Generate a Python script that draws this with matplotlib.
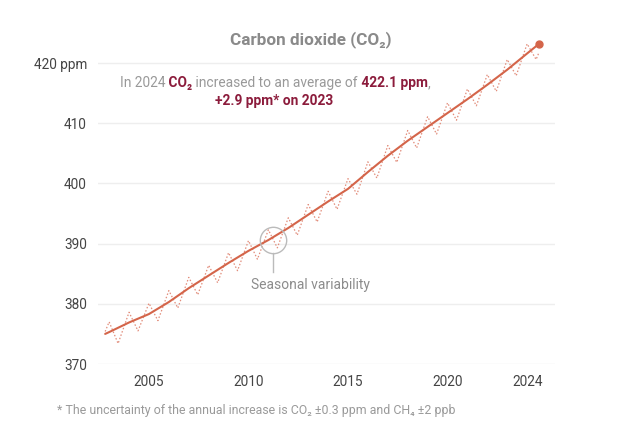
import matplotlib
matplotlib.use("Agg")
import matplotlib.pyplot as plt
from matplotlib.offsetbox import TextArea, HPacker, AnnotationBbox

# trend (deseasonalised) values
trend_years = [2002.8, 2003, 2004, 2005, 2006, 2007, 2008, 2009, 2010, 2011, 2012,
               2013, 2014, 2015, 2016, 2017, 2018, 2019, 2020, 2021, 2022, 2023,
               2024, 2024.6]
trend_ppm = [375.0, 375.3, 376.9, 378.3, 380.3, 382.6, 384.7, 386.8, 388.8, 390.6,
             392.6, 394.8, 397.0, 399.1, 401.9, 404.6, 407.1, 409.4, 411.7, 414.0,
             416.4, 418.9, 421.6, 423.2]

# seasonal cycle: spring peaks and autumn troughs
peak_years = [2003, 2004, 2005, 2006, 2007, 2008, 2009, 2010, 2011, 2012, 2013,
              2014, 2015, 2016, 2017, 2018, 2019, 2020, 2021, 2022, 2023, 2024]
peak_ppm = [377.0, 378.6, 380.1, 382.2, 384.4, 386.4, 388.5, 390.5, 392.3, 394.3,
            396.5, 398.7, 400.8, 403.6, 406.3, 408.8, 411.1, 413.4, 415.7, 418.1,
            420.6, 423.2]
trough_years = [2003.45, 2004.45, 2005.45, 2006.45, 2007.45, 2008.45, 2009.45,
                2010.45, 2011.45, 2012.45, 2013.45, 2014.45, 2015.45, 2016.45,
                2017.45, 2018.45, 2019.45, 2020.45, 2021.45, 2022.45, 2023.45,
                2024.45]
trough_ppm = [373.4, 375.5, 377.2, 379.3, 381.5, 383.5, 385.5, 387.4, 389.3, 391.4,
              393.6, 395.7, 398.2, 400.9, 403.5, 405.9, 408.2, 410.5, 412.9, 415.3,
              417.9, 420.6]
season_start = (2002.8, 375.4)
season_end = (2024.6, 421.8)

xticks = [2005, 2010, 2015, 2020, 2024]
yticks = [370, 380, 390, 400, 410, 420]
ytick_labels = ["370", "380", "390", "400", "410", "420 ppm"]

FONT = ["Roboto", "DejaVu Sans"]
plt.rcParams["font.family"] = FONT

LINE = "#d4654a"
DOTS = "#e28d7b"
MAROON = "#8c1c3c"
GREY = "#999999"

# build the zigzag seasonal series from peaks and troughs
season_x = [season_start[0]]
season_y = [season_start[1]]
for px, py, tx, ty in zip(peak_years, peak_ppm, trough_years, trough_ppm):
    season_x += [px, tx]
    season_y += [py, ty]
season_x.append(season_end[0])
season_y.append(season_end[1])

fig = plt.figure(figsize=(6.4, 4.36), dpi=100)
ax = fig.add_axes([98 / 640, 1 - 364 / 436, 457 / 640, 328 / 436])

ax.plot(season_x, season_y, color=DOTS, lw=0.9, ls=(0, (1.2, 1.6)))
ax.plot(trend_years, trend_ppm, color=LINE, lw=1.5, solid_capstyle="round")
ax.plot(trend_years[-1], trend_ppm[-1], "o", color=LINE, ms=5)

ax.set_xlim(2002.44, 2025.4)
ax.set_ylim(370, 424.5)
ax.set_xticks(xticks)
ax.set_xticklabels([str(x) for x in xticks])
ax.set_yticks(yticks)
ax.set_yticklabels(ytick_labels)
ax.tick_params(length=0, labelsize=9.8, colors="#444444", pad=8)
ax.grid(axis="y", color="#eeeeee", lw=1)
ax.set_axisbelow(True)
for s in ax.spines.values():
    s.set_visible(False)

# seasonal variability callout
ax.plot(2011.23, 390.6, "o", ms=19, mfc="none", mec="#bbbbbb", mew=1)
ax.plot([2011.23, 2011.23], [388.4, 385.3], color="#bbbbbb", lw=1)
ax.text(2013.1, 383.1, "Seasonal variability", ha="center", va="center",
        fontsize=10, color="#8c8c8c")

fig.text(311 / 640, 1 - 40 / 436, "Carbon dioxide (CO\u2082)", ha="center",
         va="center", fontsize=12.3, fontweight="bold", color="#8a8a8a")


def rich_line(parts, xy):
    boxes = [TextArea(t, textprops=dict(color=c, fontsize=9.9, fontweight=w,
                                          family=FONT))
             for t, c, w in parts]
    pack = HPacker(children=boxes, pad=0, sep=0, align="baseline")
    ab = AnnotationBbox(pack, xy, xycoords="figure fraction",
                        box_alignment=(0.5, 0.5), frameon=False)
    fig.add_artist(ab)


rich_line([("In 2024", GREY, "normal"),
           (" CO\u2082", MAROON, "bold"),
           (" increased to an average of", GREY, "normal"),
           (" 422.1 ppm", MAROON, "bold"),
           (",", GREY, "normal")], (275 / 640, 1 - 83 / 436))
rich_line([("+2.9 ppm* on 2023", MAROON, "bold")], (274 / 640, 1 - 101 / 436))

fig.text(57 / 640, 1 - 410 / 436,
         "* The uncertainty of the annual increase is CO\u2082 \u00b10.3 ppm and CH\u2084 \u00b12 ppb",
         ha="left", va="center", fontsize=8.9, color="#9a9a9a")

fig.savefig("out.png", dpi=100, facecolor="white")
